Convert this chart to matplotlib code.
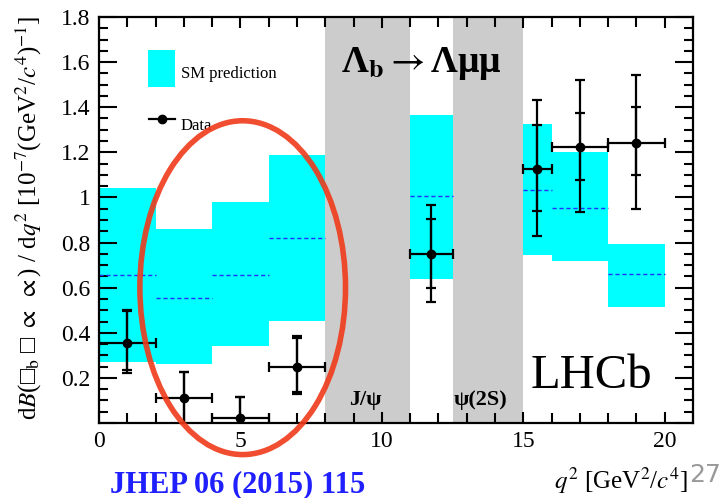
import numpy as np
import matplotlib
matplotlib.use("Agg")
import matplotlib.pyplot as plt
from matplotlib.patches import Ellipse, Rectangle
from matplotlib.ticker import MultipleLocator, FuncFormatter

plt.rcParams['font.family'] = ['Liberation Serif', 'DejaVu Serif']
plt.rcParams['mathtext.fontset'] = 'stix'

# SM prediction bins (q^2 in GeV^2/c^4)
bin_lo = [0, 2, 4, 6, 11, 15, 16, 18]
bin_hi = [2, 4, 6, 8, 12.5, 16, 18, 20]
sm_low = [0.27, 0.26, 0.34, 0.45, 0.64, 0.745, 0.72, 0.515]
sm_high = [1.04, 0.86, 0.98, 1.19, 1.365, 1.325, 1.20, 0.795]
sm_mid = [0.655, 0.555, 0.655, 0.82, 1.005, 1.035, 0.955, 0.66]

# LHCb data
data_x = [1.0, 3.0, 5.0, 7.0, 11.75, 15.5, 17.0, 19.0]
data_y = [0.355, 0.11, 0.022, 0.25, 0.75, 1.125, 1.225, 1.24]
tot_up = [0.145, 0.118, 0.092, 0.135, 0.217, 0.307, 0.295, 0.304]
tot_dn = [0.133, 0.13, 0.05, 0.12, 0.214, 0.298, 0.289, 0.292]
stat_up = [0.141, 0.118, 0.092, 0.128, 0.154, 0.198, 0.148, 0.16]
stat_dn = [0.121, 0.13, 0.05, 0.112, 0.153, 0.185, 0.147, 0.141]

# charmonium vetoes
vetoes = [(8, 11), (12.5, 15)]

fig = plt.figure(figsize=(7.27, 4.98), dpi=100)
ax = fig.add_axes([99/727, 75/498, 594/727, 406/498])

for lo, hi in vetoes:
    ax.axvspan(lo, hi, color='#cccccc', lw=0, zorder=1)

for lo, hi, a, b, m in zip(bin_lo, bin_hi, sm_low, sm_high, sm_mid):
    ax.add_patch(Rectangle((lo, a), hi - lo, b - a, color='#00ffff', lw=0, zorder=1))
    ax.plot([lo, hi], [m, m], ls=(0, (3, 2)), color='#2030ff', lw=1.0, zorder=2)

xerr = [np.array(data_x) - np.array(bin_lo), np.array(bin_hi) - np.array(data_x)]
ax.errorbar(data_x, data_y, xerr=xerr, yerr=[tot_dn, tot_up], fmt='o', color='black',
            ms=6, lw=1.6, capsize=3.6, capthick=1.6, zorder=4)
ax.errorbar(data_x, data_y, yerr=[stat_dn, stat_up], fmt='none', ecolor='black',
            lw=1.6, capsize=3.6, capthick=1.6, zorder=4)

ax.set_xlim(0, 21)
ax.set_ylim(0, 1.8)
ax.xaxis.set_major_locator(MultipleLocator(5))
ax.xaxis.set_minor_locator(MultipleLocator(1))
ax.yaxis.set_major_locator(MultipleLocator(0.2))
ax.yaxis.set_minor_locator(MultipleLocator(0.05))
ax.yaxis.set_major_formatter(FuncFormatter(lambda v, p: '' if abs(v) < 1e-9 else '%g' % v))
ax.tick_params(which='both', direction='in', top=True, right=True, width=1.5,
               labelsize=17, pad=6)
ax.tick_params(axis='y', which='major', length=13)
ax.tick_params(axis='y', which='minor', length=6.5)
ax.tick_params(axis='x', which='major', length=8)
ax.tick_params(axis='x', which='minor', length=7)
for s in ax.spines.values():
    s.set_linewidth(1.6)
    s.set_zorder(5)

# texts inside the plot
ax.text(8.55, 1.557, r'Λ$_\mathbf{b}\rightarrow$Λμμ', fontsize=27, fontweight='bold',
        ha='left', va='baseline', zorder=6)
ax.text(15.27, 0.157, 'LHCb', fontsize=35, ha='left', va='baseline', zorder=6)
ax.text(8.85, 0.081, 'J/ψ', fontsize=16, fontweight='bold', ha='left', va='baseline', zorder=6)
ax.text(12.55, 0.081, 'ψ(2S)', fontsize=16, fontweight='bold', ha='left', va='baseline', zorder=6)

# legend
ax.add_patch(Rectangle((0.0825, 0.828), 0.0455, 0.091, transform=ax.transAxes,
                       color='#00ffff', lw=0, zorder=6))
ax.text(0.138, 0.860, 'SM prediction', transform=ax.transAxes, fontsize=12,
        ha='left', va='center', zorder=6)
ax.plot([0.0842, 0.128], [0.749, 0.749], transform=ax.transAxes, color='black', lw=1.6, zorder=6)
ax.plot([0.106], [0.749], 'o', transform=ax.transAxes, color='black', ms=6, zorder=6)
ax.text(0.138, 0.7315, 'Data', transform=ax.transAxes, fontsize=12,
        ha='left', va='center', zorder=6)

# hand-drawn red circle
ax.add_patch(Ellipse((5.08, 0.60), 7.27, 1.48, fill=False, ec='#f03a1a', lw=4,
                     alpha=0.9, clip_on=False, zorder=7))

# axis labels
fig.text(29/727, 1 - 218/498,
         r'd$B$(□$_{\rm b}$ □ $\propto$ $\propto$) / d$q^2$ [10$^{-7}$(GeV$^2$/$c^4$)$^{-1}$]',
         rotation=90, fontsize=18, ha='center', va='center')
fig.text(688/727, 1 - 489/498, r'$q^2$ [GeV$^2$/$c^4$]', fontsize=18,
         ha='right', va='baseline')
fig.text(689/727, 1 - 482/498, '27', fontsize=18, color='#999999',
         family='DejaVu Sans', ha='left', va='baseline')
fig.text(110/727, 1 - 492/498, 'JHEP 06 (2015) 115', fontsize=22, fontweight='bold',
         color='#1f1fff', ha='left', va='baseline')

fig.savefig('out.png', dpi=100)
